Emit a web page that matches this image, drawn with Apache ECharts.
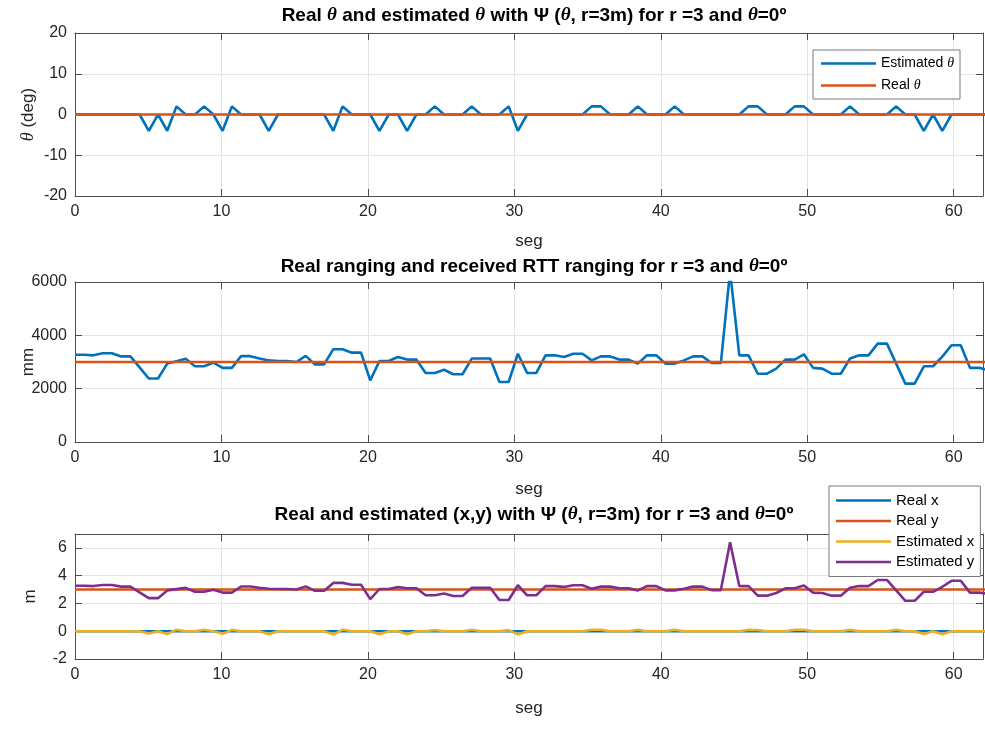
<!DOCTYPE html>
<html>
<head>
<meta charset="utf-8">
<script src="https://cdn.jsdelivr.net/npm/echarts@6/dist/echarts.min.js"></script>
<style>
  html, body { margin: 0; padding: 0; background: #fff; }
  #chart { width: 985px; height: 749px; }
</style>
</head>
<body>
<div id="chart"></div>
<script>
// Sample positions (seg)
const seg = [
  0, 0.63, 1.26, 1.89, 2.52, 3.15, 3.78, 4.41, 5.04, 5.67,
  6.3, 6.93, 7.56, 8.19, 8.82, 9.45, 10.08, 10.71, 11.34, 11.97,
  12.6, 13.23, 13.86, 14.49, 15.12, 15.75, 16.38, 17.01, 17.64, 18.27,
  18.9, 19.53, 20.16, 20.79, 21.42, 22.05, 22.68, 23.31, 23.94, 24.57,
  25.2, 25.83, 26.46, 27.09, 27.72, 28.35, 28.98, 29.61, 30.24, 30.87,
  31.5, 32.13, 32.76, 33.39, 34.02, 34.65, 35.28, 35.91, 36.54, 37.17,
  37.8, 38.43, 39.06, 39.69, 40.32, 40.95, 41.58, 42.21, 42.84, 43.47,
  44.1, 44.73, 45.36, 45.99, 46.62, 47.25, 47.88, 48.51, 49.14, 49.77,
  50.4, 51.03, 51.66, 52.29, 52.92, 53.55, 54.18, 54.81, 55.44, 56.07,
  56.7, 57.33, 57.96, 58.59, 59.22, 59.85, 60.48, 61.11, 61.74, 62.37
];

// Estimated angle (deg)
const estTheta = [
  0, 0, 0, 0, 0, 0, 0, 0, -4, 0,
  -4, 2, 0, 0, 2, 0, -4, 2, 0, 0,
  0, -4, 0, 0, 0, 0, 0, 0, -4, 2,
  0, 0, 0, -4, 0, 0, -4, 0, 0, 2,
  0, 0, 0, 2, 0, 0, 0, 2, -4, 0,
  0, 0, 0, 0, 0, 0, 2, 2, 0, 0,
  0, 2, 0, 0, 0, 2, 0, 0, 0, 0,
  0, 0, 0, 2, 2, 0, 0, 0, 2, 2,
  0, 0, 0, 0, 2, 0, 0, 0, 0, 2,
  0, 0, -4, 0, -4, 0, 0, 0, 0, 0
];
const realTheta = 0;

// Received RTT ranging (mm)
const rttRange = [
  3270, 3270, 3250, 3330, 3330, 3210, 3210, 2800, 2380, 2380,
  2940, 3030, 3120, 2840, 2840, 2980, 2780, 2780, 3220, 3220,
  3130, 3060, 3040, 3040, 3000, 3230, 2910, 2910, 3480, 3480,
  3350, 3350, 2310, 3040, 3040, 3190, 3090, 3090, 2590, 2590,
  2710, 2540, 2540, 3130, 3130, 3130, 2250, 2250, 3310, 2590,
  2590, 3250, 3250, 3190, 3310, 3310, 3060, 3210, 3210, 3090,
  3090, 2940, 3250, 3250, 2940, 2940, 3060, 3210, 3210, 2960,
  2960, 6400, 3250, 3250, 2560, 2560, 2750, 3090, 3090, 3290,
  2780, 2750, 2560, 2560, 3130, 3250, 3250, 3690, 3690, 2940,
  2190, 2190, 2840, 2840, 3200, 3630, 3630, 2780, 2780, 2690
];
const realRange = 3000;

// Position (m)
const realX = 0;
const realY = 3;
const estX = [
  0, 0, 0, 0, 0, 0, 0, 0, -0.17, 0,
  -0.21, 0.11, 0, 0, 0.10, 0, -0.19, 0.10, 0, 0,
  0, -0.21, 0, 0, 0, 0, 0, 0, -0.24, 0.12,
  0, 0, 0, -0.21, 0, 0, -0.22, 0, 0, 0.09,
  0, 0, 0, 0.11, 0, 0, 0, 0.08, -0.23, 0,
  0, 0, 0, 0, 0, 0, 0.11, 0.11, 0, 0,
  0, 0.10, 0, 0, 0, 0.10, 0, 0, 0, 0,
  0, 0, 0, 0.11, 0.09, 0, 0, 0, 0.11, 0.11,
  0, 0, 0, 0, 0.11, 0, 0, 0, 0, 0.10,
  0, 0, -0.20, 0, -0.22, 0, 0, 0, 0, 0
];
const estY = [
  3.27, 3.27, 3.25, 3.33, 3.33, 3.21, 3.21, 2.80, 2.38, 2.38,
  2.94, 3.03, 3.12, 2.84, 2.84, 2.98, 2.78, 2.78, 3.22, 3.22,
  3.13, 3.06, 3.04, 3.04, 3.00, 3.23, 2.91, 2.91, 3.48, 3.48,
  3.35, 3.35, 2.31, 3.04, 3.04, 3.19, 3.09, 3.09, 2.59, 2.59,
  2.71, 2.54, 2.54, 3.13, 3.13, 3.13, 2.25, 2.25, 3.31, 2.59,
  2.59, 3.25, 3.25, 3.19, 3.31, 3.31, 3.06, 3.21, 3.21, 3.09,
  3.09, 2.94, 3.25, 3.25, 2.94, 2.94, 3.06, 3.21, 3.21, 2.96,
  2.96, 6.40, 3.25, 3.25, 2.56, 2.56, 2.75, 3.09, 3.09, 3.29,
  2.78, 2.75, 2.56, 2.56, 3.13, 3.25, 3.25, 3.69, 3.69, 2.94,
  2.19, 2.19, 2.84, 2.84, 3.20, 3.63, 3.63, 2.78, 2.78, 2.69
];

const xTicks = { min: 0, max: 62, interval: 10 };
const yTicksTheta = { min: -20, max: 20, interval: 10 };
const yTicksRange = { min: 0, max: 6000, interval: 2000 };
const yTicksPos = { min: -2, max: 7, interval: 2 };

const FONT = "'Liberation Sans', Arial, Helvetica, sans-serif";
const SERIF = "'Liberation Serif', 'Times New Roman', serif";
const INK = '#262626';
const BOX = '#4d4d4d';
const GRID = '#e4e4e4';
const C = { blue: '#0072BD', orange: '#D95319', yellow: '#EDB120', purple: '#7E2F8E' };

const thetaRich = { t: { fontFamily: SERIF, fontStyle: 'italic', fontWeight: 'normal', fontSize: 18, color: INK } };
const greek = s => s.split('θ').join('{t|θ}');

const gridBase = { outerBoundsMode: 'none', containLabel: false };
const grids = [
  Object.assign({ left: 75, top: 33, width: 908, height: 163 }, gridBase),
  Object.assign({ left: 75, top: 282, width: 908, height: 160 }, gridBase),
  Object.assign({ left: 75, top: 534, width: 908, height: 125 }, gridBase)
];

function xAxesFor(gi, nameGap) {
  const base = { gridIndex: gi, type: 'value', min: xTicks.min, max: xTicks.max, interval: xTicks.interval };
  return [
    Object.assign({}, base, {
      position: 'bottom', name: 'seg', nameLocation: 'middle', nameGap: nameGap, nameMoveOverlap: false,
      nameTextStyle: { fontFamily: FONT, fontSize: 17, color: INK },
      axisLine: { show: true, onZero: false, lineStyle: { color: BOX, width: 1 } },
      axisTick: { show: true, inside: true, length: 7, lineStyle: { color: BOX } },
      axisLabel: { fontFamily: FONT, fontSize: 16, color: INK, margin: 8, showMaxLabel: false,
        formatter: v => String(v) },
      splitLine: { show: true, lineStyle: { color: GRID, width: 1 } }
    }),
    Object.assign({}, base, {
      position: 'top',
      axisLine: { show: true, onZero: false, lineStyle: { color: BOX, width: 1 } },
      axisTick: { show: true, inside: true, length: 7, lineStyle: { color: BOX } },
      axisLabel: { show: false },
      splitLine: { show: false }
    })
  ];
}

function yAxesFor(gi, ticks, name, nameGap) {
  const base = { gridIndex: gi, type: 'value', min: ticks.min, max: ticks.max, interval: ticks.interval };
  return [
    Object.assign({}, base, {
      position: 'left', name: greek(name), nameLocation: 'middle', nameGap: nameGap, nameMoveOverlap: false,
      nameTextStyle: { fontFamily: FONT, fontSize: 17, color: INK, rich: thetaRich },
      axisLine: { show: true, onZero: false, lineStyle: { color: BOX, width: 1 } },
      axisTick: { show: true, inside: true, length: 7, lineStyle: { color: BOX } },
      axisLabel: { fontFamily: FONT, fontSize: 16, color: INK, margin: 8,
        showMaxLabel: ticks.max % ticks.interval === 0, formatter: v => String(v) },
      splitLine: { show: true, lineStyle: { color: GRID, width: 1 } }
    }),
    Object.assign({}, base, {
      position: 'right',
      axisLine: { show: true, onZero: false, lineStyle: { color: BOX, width: 1 } },
      axisTick: { show: true, inside: true, length: 7, lineStyle: { color: BOX } },
      axisLabel: { show: false },
      splitLine: { show: false }
    })
  ];
}

function line(name, xi, yi, color, pts) {
  return {
    name: name, type: 'line', xAxisIndex: xi, yAxisIndex: yi,
    data: pts, showSymbol: false, symbol: 'none', clip: true,
    lineStyle: { color: color, width: 2.6 }, itemStyle: { color: color },
    emphasis: { disabled: true }, animation: false
  };
}

const pair = arr => seg.map((s, i) => [s, arr[i]]);
const flat = v => seg.map(s => [s, v]);

function titleAt(text, top) {
  return {
    text: greek(text), left: 529, top: top, textAlign: 'center',
    textStyle: { fontFamily: FONT, fontSize: 19, fontWeight: 'bold', color: '#000', rich: {
      t: { fontFamily: SERIF, fontStyle: 'italic', fontWeight: 'bold', fontSize: 19, color: '#000' }
    } }
  };
}

function legendAt(names, left, top, gap, pad, size) {
  return {
    data: names, left: left, top: top, orient: 'vertical',
    icon: 'rect', itemWidth: 55, itemHeight: 2.6, itemGap: gap,
    padding: pad, backgroundColor: '#fff', borderColor: '#7a7a7a', borderWidth: 1,
    selectedMode: false,
    formatter: n => greek(n),
    textStyle: { fontFamily: FONT, fontSize: size, color: '#000', lineHeight: 17, rich: {
      t: { fontFamily: SERIF, fontStyle: 'italic', fontSize: size, lineHeight: 17, color: '#000' }
    } }
  };
}

const chart = echarts.init(document.getElementById('chart'), null, { renderer: 'canvas' });
chart.setOption({
  backgroundColor: '#fff',
  animation: false,
  title: [
    titleAt('Real θ and estimated θ with Ψ (θ, r=3m) for r =3 and θ=0º', 1),
    titleAt('Real ranging and received RTT ranging for r =3 and θ=0º', 252),
    titleAt('Real and estimated (x,y) with Ψ (θ, r=3m) for r =3 and θ=0º', 500)
  ],
  legend: [
    legendAt(['Estimated θ', 'Real θ'], 813, 50, 5, [5, 6, 5, 8], 14),
    legendAt(['Real x', 'Real y', 'Estimated x', 'Estimated y'], 829, 486, 3.5, [6, 6, 6, 7], 15)
  ],
  grid: grids,
  xAxis: [].concat(xAxesFor(0, 37), xAxesFor(1, 39), xAxesFor(2, 41)),
  yAxis: [].concat(
    yAxesFor(0, yTicksTheta, 'θ (deg)', 38),
    yAxesFor(1, yTicksRange, 'mm', 38),
    yAxesFor(2, yTicksPos, 'm', 36)
  ),
  series: [
    line('Estimated θ', 0, 0, C.blue, pair(estTheta)),
    line('Real θ', 0, 0, C.orange, flat(realTheta)),
    line('Received ranging', 2, 2, C.blue, pair(rttRange)),
    line('Real ranging', 2, 2, C.orange, flat(realRange)),
    line('Real x', 4, 4, C.blue, flat(realX)),
    line('Real y', 4, 4, C.orange, flat(realY)),
    line('Estimated x', 4, 4, C.yellow, pair(estX)),
    line('Estimated y', 4, 4, C.purple, pair(estY))
  ]
});
</script>
</body>
</html>
